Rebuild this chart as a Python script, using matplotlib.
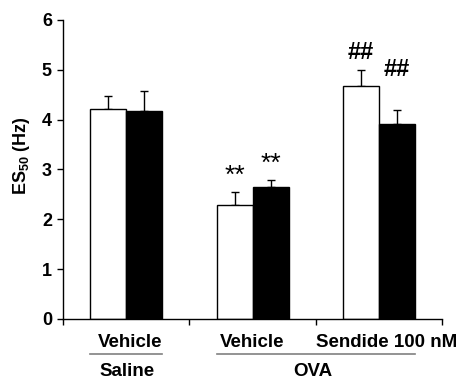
import matplotlib
matplotlib.use("Agg")
import matplotlib.pyplot as plt
import numpy as np

plt.rcParams['font.family'] = ['Liberation Sans', 'DejaVu Sans']
plt.rcParams['font.weight'] = 'bold'
plt.rcParams['mathtext.fontset'] = 'custom'
plt.rcParams['mathtext.bf'] = 'Liberation Sans:bold'
plt.rcParams['mathtext.rm'] = 'Liberation Sans:bold'

groups = ["Vehicle", "Vehicle", "Sendide 100 nM"]
treatments = ["Saline", "OVA"]
white_vals = [4.22, 2.29, 4.67]
white_err = [0.25, 0.25, 0.32]
black_vals = [4.17, 2.65, 3.91]
black_err = [0.40, 0.14, 0.28]
yticks = [0, 1, 2, 3, 4, 5, 6]

fig = plt.figure(figsize=(4.6, 3.82), dpi=100)
ax = fig.add_axes([0.137, 0.165, 0.824, 0.783])

x = np.arange(len(groups))
w = 0.285
ax.bar(x - w/2, white_vals, w, color='white', edgecolor='black', linewidth=1, zorder=2)
ax.bar(x + w/2, black_vals, w, color='black', edgecolor='black', linewidth=1, zorder=2)
ax.errorbar(x - w/2, white_vals, yerr=[np.zeros(3), white_err], fmt='none',
            ecolor='black', elinewidth=1, capsize=3, capthick=1, zorder=1)
ax.errorbar(x + w/2, black_vals, yerr=[np.zeros(3), black_err], fmt='none',
            ecolor='black', elinewidth=1, capsize=3, capthick=1, zorder=1)

# significance marks
ax.text(x[1] - w/2, white_vals[1] + white_err[1] + 0.19, "**", ha='center',
        va='baseline', fontsize=19, fontweight='normal')
ax.text(x[1] + w/2, black_vals[1] + black_err[1] + 0.18, "**", ha='center',
        va='baseline', fontsize=19, fontweight='normal')
ax.text(x[2] - w/2, white_vals[2] + white_err[2] + 0.23, "##", ha='center',
        va='baseline', fontsize=17, fontweight='bold')
ax.text(x[2] + w/2, white_vals[2] + white_err[2] - 0.11, "##", ha='center',
        va='baseline', fontsize=17, fontweight='bold')

ax.set_xlim(-0.5, 2.5)
ax.set_ylim(0, 6)
ax.set_yticks(yticks)
ax.set_yticklabels([str(t) for t in yticks], fontsize=13, fontweight='bold')
ax.set_xticks([-0.5, 0.5, 1.5, 2.5])
ax.set_xticklabels([])
ax.tick_params(axis='both', direction='out', length=4, width=1, pad=4)
for s in ['top', 'right']:
    ax.spines[s].set_visible(False)
for s in ['left', 'bottom']:
    ax.spines[s].set_linewidth(1)

ax.set_ylabel("ES$_{50}$ (Hz)", fontsize=13, fontweight='bold')
ax.yaxis.set_label_coords(-0.082, 0.545)

trans = ax.get_xaxis_transform()
offsets = [0.03, 0.0, 0.065]
for i, g in enumerate(groups):
    ax.text(x[i] + offsets[i], -0.094, g, transform=trans, ha='center', va='baseline',
            fontsize=13.5, fontweight='bold', clip_on=False)

# group lines
ax.plot([x[0] - w, x[0] + w], [-0.117, -0.117], transform=trans, color='#808080',
        linewidth=1.2, clip_on=False)
ax.plot([x[1] - w, x[2] + w], [-0.117, -0.117], transform=trans, color='#808080',
        linewidth=1.2, clip_on=False)
ax.text(x[0] + 0.01, -0.19, treatments[0], transform=trans, ha='center', va='baseline',
        fontsize=13.5, fontweight='bold')
ax.text((x[1] + x[2]) / 2 - 0.02, -0.19, treatments[1], transform=trans, ha='center',
        va='baseline', fontsize=13.5, fontweight='bold')

fig.savefig("out.png", dpi=100)
